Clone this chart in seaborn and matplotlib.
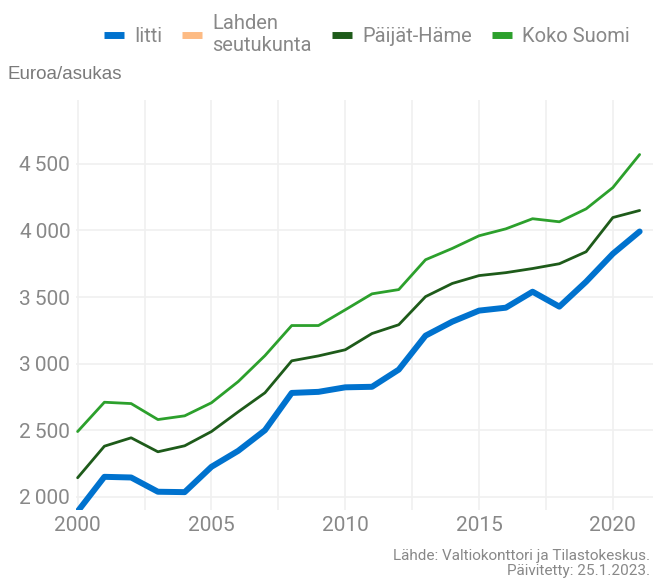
import numpy as np
import pandas as pd
import seaborn as sns
import matplotlib.pyplot as plt
import matplotlib.ticker as ticker
from matplotlib.lines import Line2D

years = list(range(2000, 2022))
iitti = [1890, 2150, 2145, 2038, 2035, 2225, 2345, 2500, 2780, 2788, 2822, 2826,
         2955, 3210, 3315, 3398, 3420, 3540, 3428, 3615, 3825, 3992]
paijat_hame = [2143, 2380, 2443, 2338, 2383, 2490, 2638, 2781, 3021, 3058, 3104, 3226,
               3292, 3503, 3602, 3661, 3683, 3714, 3750, 3840, 4097, 4150]
koko_suomi = [2490, 2710, 2700, 2580, 2608, 2706, 2865, 3060, 3286, 3286, 3404, 3524,
              3556, 3780, 3865, 3960, 4012, 4088, 4065, 4162, 4322, 4570]
# Lahden seutukunta has no values in the chart, only a legend entry
series_names = ['Iitti', 'Lahden\nseutukunta', 'Päijät-Häme', 'Koko Suomi']
colors = {'Iitti': '#0072ce', 'Lahden\nseutukunta': '#fdbb84',
          'Päijät-Häme': '#1e5b1a', 'Koko Suomi': '#2ca02c'}
widths = {'Iitti': 4.3, 'Päijät-Häme': 2.0, 'Koko Suomi': 2.0}

df = pd.DataFrame({
    'Vuosi': years * 3,
    'Arvo': iitti + paijat_hame + koko_suomi,
    'Alue': ['Iitti'] * len(years) + ['Päijät-Häme'] * len(years) + ['Koko Suomi'] * len(years),
})

sns.set_theme(style='white')
plt.rcParams['font.family'] = ['Roboto', 'DejaVu Sans']
grey = '#888888'

fig = plt.figure(figsize=(6.53, 5.81), dpi=100)
ax = fig.add_axes([0.116, 0.122, 0.884, 0.706])

for name in ['Koko Suomi', 'Päijät-Häme', 'Iitti']:
    sub = df[df['Alue'] == name]
    sns.lineplot(data=sub, x='Vuosi', y='Arvo', color=colors[name], linewidth=widths[name],
                 ax=ax, legend=False, zorder=3 if name == 'Iitti' else 2)

ax.set_xlim(1999.93, 2021.5)
ax.set_ylim(1900, 4980)
ax.xaxis.set_major_locator(ticker.MultipleLocator(5))
ax.xaxis.set_minor_locator(ticker.MultipleLocator(2.5))
ax.yaxis.set_major_locator(ticker.MultipleLocator(500))
ax.yaxis.set_major_formatter(ticker.FuncFormatter(lambda v, p: f'{int(v):,}'.replace(',', '\u202f')))
ax.grid(which='major', axis='both', color='#f0f0f0', linewidth=1.2)
ax.grid(which='minor', axis='x', color='#f0f0f0', linewidth=1.2)
ax.set_axisbelow(True)
for s in ax.spines.values():
    s.set_visible(False)
ax.tick_params(axis='both', which='both', length=0, labelsize=15, labelcolor=grey, pad=4)
ax.set_xlabel('')
ax.set_ylabel('')

fig.text(0.012, 0.871, 'Euroa/asukas', fontsize=13.5, color='#7a7a7a', ha='left', va='center',
         family=['Liberation Sans', 'DejaVu Sans'])

handles = [Line2D([0], [0], color=colors[n], linewidth=5, solid_capstyle='butt') for n in series_names]
fig.legend(handles, series_names, loc='center', bbox_to_anchor=(0.562, 0.94), ncol=4,
           frameon=False, fontsize=14.5, labelcolor=grey, handlelength=1.0,
           handletextpad=0.5, columnspacing=1.0, labelspacing=0.1)

fig.text(0.996, 0.030, 'Lähde: Valtiokonttori ja Tilastokeskus.\nPäivitetty: 25.1.2023.',
         fontsize=11, color=grey, ha='right', va='center', linespacing=1.1)

fig.savefig('out.png', dpi=100)
